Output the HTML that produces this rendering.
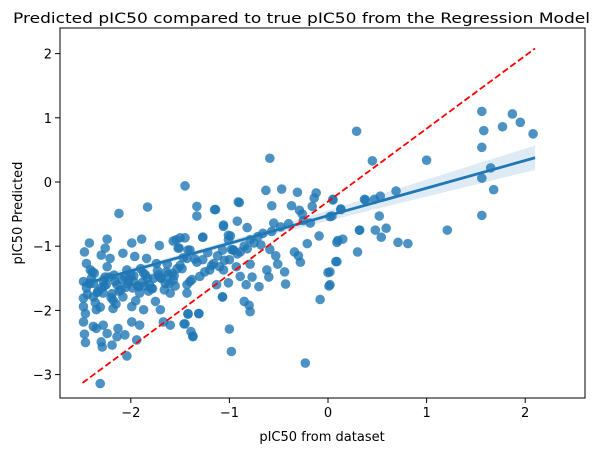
<!DOCTYPE html>
<html><head><meta charset="utf-8"><style>
body{margin:0;background:#fff;}
svg{display:block;font-family:"DejaVu Sans","Liberation Sans",sans-serif;}
</style></head><body>
<svg id="chart" width="599" height="453" viewBox="0 0 599 453" xmlns="http://www.w3.org/2000/svg">
<rect width="599" height="453" fill="#fff"/>
<text x="13" y="23" font-size="14.5" text-anchor="start" textLength="577" lengthAdjust="spacingAndGlyphs">Predicted pIC50 compared to true pIC50 from the Regression Model</text>
<g id="plot"></g>
<text x="322" y="441" font-size="13" text-anchor="middle">pIC50 from dataset</text>
<text transform="translate(22,213) rotate(-90)" font-size="13" text-anchor="middle">pIC50 Predicted</text>
</svg>
<script>
const xTicks=[-2,-1,0,1,2];
const yTicks=[-3,-2,-1,0,1,2];
const xTrue=[1.56,1.58,1.77,1.87,1.95,2.08,1.56,1.0,0.29,0.45,1.65,1.56,1.68,1.56,0.69,0.53,0.47,0.37,0.38,0.13,0.04,0.05,0.52,0.32,0.48,0.59,0.54,0.71,0.81,1.21,0.15,0.09,0.30,0.08,0.02,0.02,
-0.59,-1.45,-0.63,-0.47,-0.31,-0.12,-0.14,0.05,-0.90,-1.33,-1.33,-1.14,-0.57,-0.37,-0.29,-0.26,-0.16,0.13,0.02,-0.18,-0.25,-0.55,-0.92,-1.06,-0.82,-0.57,0.32,-0.09,0.10,-0.21,-0.99,-1.01,-0.71,-0.79,-1.50,-1.45,-1.54,-1.27,-1.51,-1.40,-1.07,-0.96,-0.89,-0.82,-0.59,-0.34,-0.30,-0.28,-0.53,-0.51,-0.79,-1.43,-1.27,-1.16,-1.06,-0.93,-0.89,-0.77,-0.62,-0.60,-0.70,-0.44,-0.43,-0.83,-1.01,-1.13,0.00,0.01,0.09,-0.08,-1.07,-0.85,-0.80,-0.79,-1.31,-1.42,-1.46,-1.39,-1.37,-1.00,-0.98,-0.23,-1.60,
-2.12,-1.83,-1.15,-2.42,-2.47,-2.24,-2.26,-1.89,-1.99,-1.71,-1.57,-1.52,-1.27,-1.42,-2.45,-2.30,-2.21,-2.08,-1.96,-1.84,-1.74,-2.24,-2.41,-2.04,-1.87,-1.64,-2.48,-2.38,-2.28,-2.14,-1.97,-1.81,-1.57,-1.43,-1.30,-1.20,-1.10,-1.00,-0.96,-1.06,-1.01,-0.91,-2.48,-2.38,-2.28,-2.18,-2.08,-1.91,-1.75,-1.60,-1.43,-2.48,-2.35,-2.18,-1.99,-1.87,-1.70,-1.42,-1.31,-2.48,-2.38,-2.28,-2.13,-1.99,-1.91,-1.67,-1.45,-2.47,-2.35,-2.24,-2.14,-2.06,-1.37,-2.46,-2.30,-2.29,-2.19,-1.94,-2.04,-2.31,-1.07,
-2.45,-2.40,-2.33,-2.25,-2.17,-2.10,-2.02,-1.93,-1.85,-1.78,-1.69,-1.62,-1.55,-1.48,-1.38,-1.25,-1.18,-2.44,-2.36,-2.27,-2.20,-2.12,-2.03,-1.95,-1.86,-1.77,-1.66,-1.58,-1.50,-1.40,-1.33,-2.46,-2.37,-2.31,-2.22,-2.15,-2.06,-1.98,-1.90,-1.82,-1.72,-1.63,-1.53,-1.47,-1.35,-1.22,-1.12,-0.98,-0.85,-0.75,-0.66,-0.48,-0.40,-1.05,-0.92,-0.68,
-2.42,-2.34,-2.26,-2.16,-2.05,-1.97,-1.88,-1.79,-1.70,-1.61,-2.39,-2.30,-2.19,-2.09,-2.00,-1.92,-1.83,-1.73,-1.65,-1.56];
const yPred=[1.10,0.80,0.86,1.06,0.93,0.75,0.54,0.34,0.79,0.33,0.22,0.06,-0.12,-0.52,-0.14,-0.22,-0.27,-0.27,-0.28,-0.42,-0.53,-0.28,-0.53,-0.75,-0.75,-0.72,-0.86,-0.94,-0.96,-0.75,-0.89,-0.94,-1.09,-1.24,-1.40,-1.60,
0.37,-0.06,-0.13,-0.11,-0.16,-0.17,-0.25,-0.27,-0.32,-0.38,-0.53,-0.43,-0.37,-0.37,-0.44,-0.50,-0.38,-0.43,-0.54,-0.64,-0.60,-0.64,-0.61,-0.69,-0.71,-0.77,-0.75,-0.84,-0.91,-0.96,-0.84,-0.90,-0.85,-0.90,-0.87,-0.87,-0.90,-0.86,-1.03,-1.06,-1.06,-1.06,-1.09,-1.04,-1.05,-1.09,-1.15,-1.25,-1.15,-1.28,-1.28,-1.19,-1.21,-1.27,-1.37,-1.32,-1.47,-1.48,-1.37,-1.48,-1.63,-1.40,-1.59,-1.60,-1.57,-1.60,-1.41,-1.62,-1.24,-1.83,-1.79,-1.86,-1.92,-2.02,-2.05,-2.06,-2.21,-2.33,-2.41,-2.29,-2.64,-2.82,-2.23,
-0.49,-0.39,-0.43,-0.95,-1.09,-0.89,-1.03,-0.89,-0.95,-0.99,-0.92,-1.03,-0.86,-1.06,-1.27,-1.14,-1.19,-1.11,-1.16,-1.19,-1.27,-1.32,-1.37,-1.37,-1.42,-1.40,-1.55,-1.58,-1.53,-1.60,-1.55,-1.60,-1.53,-1.60,-1.47,-1.37,-1.32,-1.21,-1.06,-0.67,-0.83,-0.31,-1.81,-1.79,-1.73,-1.84,-1.79,-1.73,-1.86,-1.73,-1.73,-1.94,-1.99,-1.97,-1.94,-1.99,-1.99,-2.05,-2.05,-2.18,-2.25,-2.23,-2.28,-2.18,-2.23,-2.18,-2.21,-2.37,-2.28,-2.36,-2.41,-2.38,-2.40,-2.50,-2.49,-2.57,-2.54,-2.46,-2.71,-3.14,-1.79,
-1.65,-1.50,-1.70,-1.60,-1.45,-1.68,-1.52,-1.62,-1.45,-1.66,-1.50,-1.44,-1.62,-1.35,-1.52,-1.40,-1.30,-1.75,-1.88,-1.62,-1.80,-1.70,-1.58,-1.85,-1.62,-1.50,-1.68,-1.42,-1.30,-1.55,-1.25,-2.05,-1.42,-1.95,-1.48,-1.90,-1.48,-1.65,-1.35,-1.70,-1.45,-1.28,-1.35,-1.18,-1.20,-1.10,-1.15,-1.05,-1.00,-0.95,-0.80,-0.70,-0.65,-1.22,-1.12,-0.98,
-1.58,-1.72,-1.48,-1.55,-1.64,-1.46,-1.56,-1.66,-1.49,-1.58,-1.40,-1.65,-1.74,-1.52,-1.45,-1.63,-1.50,-1.38,-1.58,-1.46];
const redLineX=[-2.49,2.10];
const redLineY=[-3.13,2.08];
const fitX=[-2.49,2.10];
const fitIntercept=-0.525, fitSlope=0.43;
const ciCenter=-1.3, ciBase=0.0016, ciSpread=0.003;

const NS='http://www.w3.org/2000/svg';
const L=60,R=585,T=28,B=398;
const sx=v=>328+v*98.6;
const sy=v=>182-v*64.2;
const g=document.getElementById('plot');
function mk(tag,attrs){const e=document.createElementNS(NS,tag);for(const k in attrs)e.setAttribute(k,attrs[k]);g.appendChild(e);return e;}

const n=Math.min(xTrue.length,yPred.length);
for(let i=0;i<n;i++){
  const c=mk('circle',{cx:sx(xTrue[i]),cy:sy(yPred[i]),r:4.8,fill:'#1f77b4','fill-opacity':0.8});
  
  
}
let up=[],dn=[];
for(let k=0;k<=40;k++){const x=fitX[0]+(fitX[1]-fitX[0])*k/40;const y=fitIntercept+fitSlope*x;const h=Math.sqrt(ciBase+ciSpread*(x-ciCenter)**2);up.push(sx(x)+','+sy(y+h));dn.unshift(sx(x)+','+sy(y-h));}
const band=mk('polygon',{points:up.concat(dn).join(' '),fill:'#1f77b4','fill-opacity':0.15});


const fit=mk('line',{x1:sx(fitX[0]),y1:sy(fitIntercept+fitSlope*fitX[0]),x2:sx(fitX[1]),y2:sy(fitIntercept+fitSlope*fitX[1]),stroke:'#1f77b4','stroke-width':2.8});


const red=mk('line',{x1:sx(redLineX[0]),y1:sy(redLineY[0]),x2:sx(redLineX[1]),y2:sy(redLineY[1]),stroke:'#ff0000','stroke-width':1.8,'stroke-dasharray':'6.5,3'});


const fr=mk('rect',{x:L,y:T,width:R-L,height:B-T,fill:'none',stroke:'#000','stroke-width':1});


xTicks.forEach(v=>{
  const t=mk('line',{x1:sx(v),x2:sx(v),y1:B,y2:B+5,stroke:'#000'});
  
  
  const l=mk('text',{x:sx(v),y:B+19,'font-size':13,'text-anchor':'middle'});
  l.textContent=(v<0?'\u2212':'')+Math.abs(v);
  
  
});
yTicks.forEach(v=>{
  const t=mk('line',{x1:L-5,x2:L,y1:sy(v),y2:sy(v),stroke:'#000'});
  
  
  const l=mk('text',{x:L-8,y:sy(v)+5,'font-size':13,'text-anchor':'end'});
  l.textContent=(v<0?'\u2212':'')+Math.abs(v);
  
  
});
</script>
</body></html>
